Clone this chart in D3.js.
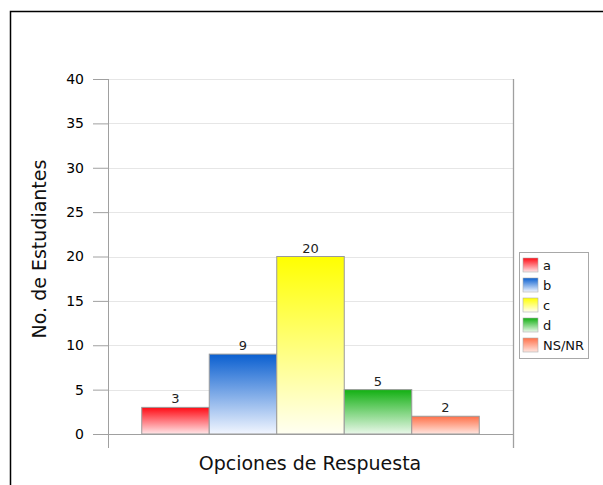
<!DOCTYPE html>
<html>
<head>
<meta charset="utf-8">
<script src="https://cdn.jsdelivr.net/npm/d3@7"></script>
<style>
  body { margin: 0; background: #fff; }
  svg { display: block; font-family: 'DejaVu Sans', Verdana, sans-serif; }
</style>
</head>
<body>
<div id="chart"></div>
<script>
// Data
const categories = ['a', 'b', 'c', 'd', 'NS/NR'];
const values = [3, 9, 20, 5, 2];
const yTicks = [0, 5, 10, 15, 20, 25, 30, 35, 40];
const topColors = ['#ff0a14', '#0a5fd0', '#ffff00', '#12b012', '#ff7048'];
const bottomColors = ['#ffe6e8', '#f2f6ff', '#fffff2', '#eaf8ea', '#ffe6e0'];

const width = 603, height = 485;
const plot = { left: 108, right: 513, top: 79, bottom: 434 };

const svg = d3.select('#chart').append('svg')
    .attr('width', width)
    .attr('height', height);

// Gradients
const defs = svg.append('defs');
categories.forEach((c, i) => {
    const grad = defs.append('linearGradient')
        .attr('id', 'grad' + i)
        .attr('x1', 0).attr('y1', 0).attr('x2', 0).attr('y2', 1);
    grad.append('stop').attr('offset', '0%').attr('stop-color', topColors[i]);
    grad.append('stop').attr('offset', '100%').attr('stop-color', bottomColors[i]);
});

// Outer frame
svg.append('path')
    .attr('d', `M10.5,${height} V11.5 H${width}`)
    .attr('fill', 'none')
    .attr('stroke', '#000')
    .attr('stroke-width', 1.5);

// Scales
const x = d3.scaleBand()
    .domain(categories)
    .range([plot.left, plot.right])
    .paddingInner(0)
    .paddingOuter(0.5);

const y = d3.scaleLinear()
    .domain([0, 40])
    .range([plot.bottom, plot.top]);

// Gridlines
svg.append('g')
    .selectAll('line')
    .data(yTicks.filter(d => d > 0))
    .enter()
    .append('line')
    .attr('x1', plot.left)
    .attr('x2', plot.right)
    .attr('y1', d => Math.round(y(d)) + 0.5)
    .attr('y2', d => Math.round(y(d)) + 0.5)
    .attr('stroke', '#e6e6e6');

// Y axis
const yAxis = svg.append('g')
    .attr('transform', `translate(${plot.left},0)`)
    .call(d3.axisLeft(y).tickValues(yTicks).tickSize(15).tickPadding(9));
yAxis.select('.domain').remove();
yAxis.selectAll('.tick line').attr('stroke', '#a0a0a0');
yAxis.selectAll('.tick text')
    .attr('fill', '#000')
    .style('font-size', '14px')
    .style('font-family', "'DejaVu Sans', Verdana, sans-serif");

// Axis frame lines
svg.append('line')
    .attr('x1', plot.left + 0.5).attr('x2', plot.left + 0.5)
    .attr('y1', plot.top).attr('y2', 448)
    .attr('stroke', '#a0a0a0');
svg.append('line')
    .attr('x1', plot.right + 0.5).attr('x2', plot.right + 0.5)
    .attr('y1', plot.top).attr('y2', 448)
    .attr('stroke', '#a0a0a0')
    .attr('stroke-width', 1.3);
svg.append('line')
    .attr('x1', plot.left).attr('x2', plot.right)
    .attr('y1', plot.bottom + 0.5).attr('y2', plot.bottom + 0.5)
    .attr('stroke', '#a0a0a0');

// Bars
const bars = svg.append('g')
    .selectAll('.bar')
    .data(values)
    .enter()
    .append('g')
    .attr('class', 'bar');

bars.append('rect')
    .attr('x', (d, i) => x(categories[i]))
    .attr('y', d => y(d))
    .attr('width', x.bandwidth())
    .attr('height', d => plot.bottom - y(d))
    .attr('fill', (d, i) => `url(#grad${i})`)
    .attr('stroke', '#9a9a9a')
    .attr('stroke-width', 1);

bars.append('text')
    .attr('x', (d, i) => x(categories[i]) + x.bandwidth() / 2)
    .attr('y', d => y(d) - 4)
    .attr('text-anchor', 'middle')
    .style('font-size', '13px')
    .attr('fill', '#222')
    .text(d => d);

// Axis titles
svg.append('text')
    .attr('x', 310)
    .attr('y', 470)
    .attr('text-anchor', 'middle')
    .style('font-size', '19px')
    .attr('fill', '#111')
    .text('Opciones de Respuesta');

svg.append('text')
    .attr('transform', 'translate(46,249) rotate(-90)')
    .attr('text-anchor', 'middle')
    .style('font-size', '19px')
    .attr('fill', '#111')
    .text('No. de Estudiantes');

// Legend
const legend = svg.append('g');
legend.append('rect')
    .attr('x', 519.5).attr('y', 252.5)
    .attr('width', 69).attr('height', 106)
    .attr('fill', '#fff')
    .attr('stroke', '#a8a8a8');

const items = legend.selectAll('.legend-item')
    .data(categories)
    .enter()
    .append('g')
    .attr('class', 'legend-item')
    .attr('transform', (d, i) => `translate(523,${258 + i * 20})`);

items.append('rect')
    .attr('width', 15)
    .attr('height', 14)
    .attr('fill', (d, i) => `url(#grad${i})`)
    .attr('stroke', '#b0b0b0')
    .attr('stroke-width', 0.6);

items.append('text')
    .attr('x', 20)
    .attr('y', 11.5)
    .style('font-size', '13px')
    .attr('fill', '#111')
    .text(d => d);
</script>
</body>
</html>
